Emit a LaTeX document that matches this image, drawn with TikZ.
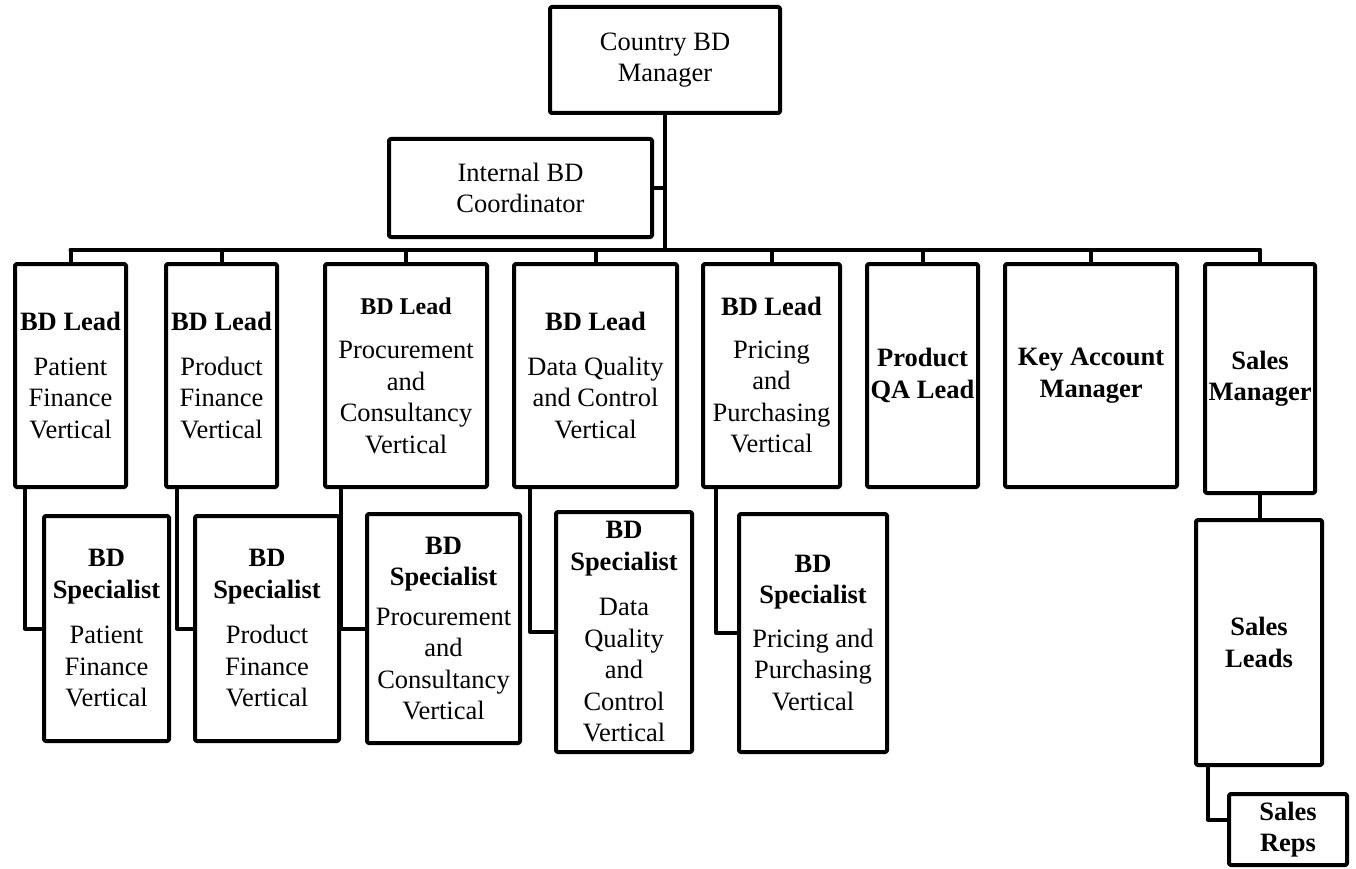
\documentclass[tikz,border=0pt]{standalone}
\usepackage{fontspec}
\setmainfont{Liberation Serif}
\begin{document}
\begin{tikzpicture}[x=1pt,y=-1pt,line width=4pt,line join=round,line cap=round,
    font=\fontsize{26.5}{31.5}\selectfont,
    box/.style={draw,rounded corners=1.5pt,align=center,inner sep=0pt},
    lead/.style={box,minimum height=223pt},
    spec/.style={box,minimum height=#1pt}]
    \useasboundingbox (0,0) rectangle (1356,869);
    % top of the chart
    \node[box,minimum width=230pt,minimum height=106pt] (cbm) at (665,60) {Country BD\\Manager};
    \node[box,minimum width=263pt,minimum height=98pt] (ibc) at (520.5,188) {Internal BD\\Coordinator};
    % leads
    \node[lead,minimum width=111pt] (l1) at (70.5,375.5) {\textbf{BD Lead}\\[13pt]Patient\\Finance\\Vertical};
    \node[lead,minimum width=111pt] (l2) at (221.5,375.5) {\textbf{BD Lead}\\[13pt]Product\\Finance\\Vertical};
    \node[lead,minimum width=162pt] (l3) at (406,375.5) {{\fontsize{24}{28}\selectfont\textbf{BD Lead}}\\[13pt]Procurement\\and\\Consultancy\\Vertical};
    \node[lead,minimum width=163pt] (l4) at (595.5,375.5) {\textbf{BD Lead}\\[13pt]Data Quality\\and Control\\Vertical};
    \node[lead,minimum width=137pt] (l5) at (771.5,375.5) {\textbf{BD Lead}\\[11pt]Pricing\\and\\Purchasing\\Vertical};
    \node[lead,minimum width=111pt] (qa) at (922.5,375.5) {\textbf{Product}\\\textbf{QA Lead}};
    \node[lead,minimum width=172pt] (kam) at (1091,375.5) {\textbf{Key Account}\\\textbf{Manager}};
    \node[box,minimum width=110pt,minimum height=229pt] (sm) at (1260,378.5) {\textbf{Sales}\\\textbf{Manager}};
    % specialists
    \node[spec=225,minimum width=125pt] (s1) at (106.5,628.5) {\textbf{BD}\\\textbf{Specialist}\\[14pt]Patient\\Finance\\Vertical};
    \node[spec=225,minimum width=144pt] (s2) at (267,628.5) {\textbf{BD}\\\textbf{Specialist}\\[14pt]Product\\Finance\\Vertical};
    \node[spec=229,minimum width=153pt] (s3) at (443.5,628.5) {\textbf{BD}\\\textbf{Specialist}\\[8pt]Procurement\\and\\Consultancy\\Vertical};
    \node[spec=240,minimum width=136pt] (s4) at (624,632) {\textbf{BD}\\\textbf{Specialist}\\[14pt]Data\\Quality\\and\\Control\\Vertical};
    \node[spec=238,minimum width=148pt] (s5) at (813,633) {\textbf{BD}\\\textbf{Specialist}\\[12pt]Pricing and\\Purchasing\\Vertical};
    % sales line
    \node[spec=245,minimum width=126pt] (sl) at (1259,642.5) {\textbf{Sales}\\\textbf{Leads}};
    \node[spec=71,minimum width=118pt] (sr) at (1288,829.5) {\textbf{Sales}\\\textbf{Reps}};
    % connectors
    \coordinate (bus) at (665,250);
    \draw (cbm.south) -- (bus);
    \draw (ibc.east) -- (ibc.east -| bus);
    \draw (l1.north |- bus) -- (sm.north |- bus);
    \foreach \n in {l1,l2,l3,l4,l5,qa,kam,sm}
        \draw (\n.north) -- (\n.north |- bus);
    \foreach \i/\d in {1/12,2/13,3/18,4/18,5/15}
        \draw ([xshift=\d pt]l\i.south west) |- (s\i.west);
    \draw (sm.south) -- (sm.south |- sl.north);
    \draw ([xshift=14pt]sl.south west) |- ([yshift=10pt]sr.west);
\end{tikzpicture}
\end{document}
